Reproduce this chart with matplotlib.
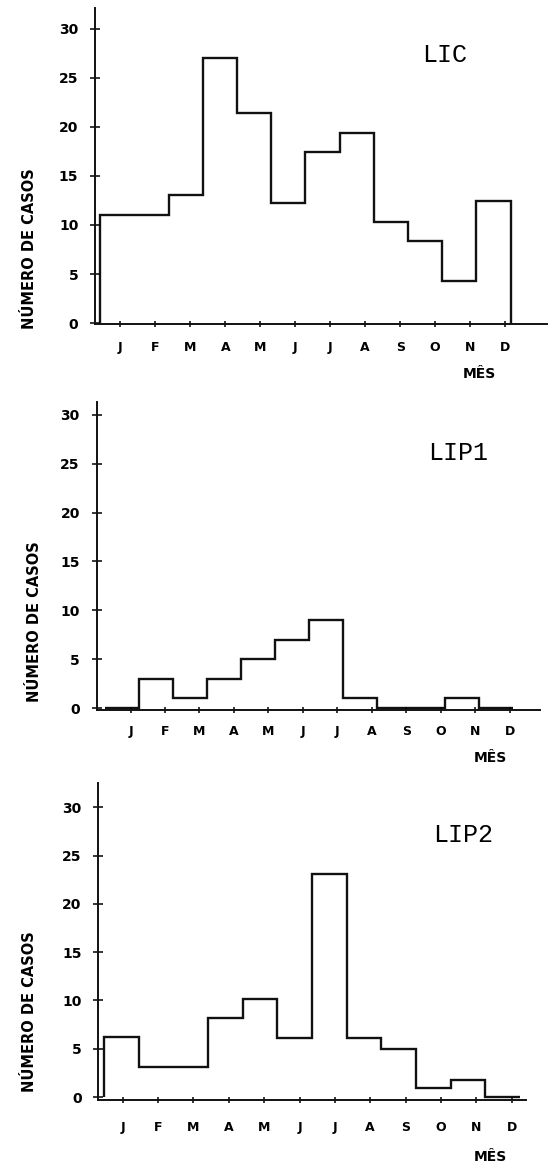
import matplotlib
matplotlib.use("Agg")
import matplotlib.pyplot as plt
import numpy as np


meses = ["J", "F", "M", "A", "M", "J", "J", "A", "S", "O", "N", "D"]

lic = [11, 11, 13.1, 27, 21.4, 12.2, 17.4, 19.4, 10.3, 8.4, 4.3, 12.4]
lip1 = [0, 3, 1, 3, 5, 7, 9, 1, 0, 0, 1, 0]
lip2 = [6.2, 3.1, 3.1, 8.2, 10.2, 6.1, 23.1, 6.1, 5, 0.9, 1.8, 0]

yticks = [0, 5, 10, 15, 20, 25, 30]

W, H = 550, 1171


def px(x, y):
    # pixel position (from top left) -> figure fraction
    return x / W, 1 - y / H


def plot_painel(
        fig,
        rect,
        valores,
        nome,
        xlim,
        ylim,
        inicio,
        largura,
        pos_nome,
        pos_mes,
        pos_ylabel,
        xpad = 11
        ):

    ax = fig.add_axes(rect)

    bordas = inicio + largura * np.arange(len(valores) + 1)

    ax.stairs(valores, bordas, baseline = 0,
              color = "#111111", lw = 1.7)

    for lado in ["top", "right"]:
        ax.spines[lado].set_visible(False)
    for lado in ["left", "bottom"]:
        ax.spines[lado].set_linewidth(1.4)
        ax.spines[lado].set_color("#111111")

    ax.set(
        xlim = xlim,
        ylim = ylim,
        xticks = np.arange(1, 13),
        yticks = yticks,
        )
    ax.set_xticklabels(meses, fontsize = 9, fontweight = "bold")
    ax.set_yticklabels([str(v) for v in yticks],
                       fontsize = 10, fontweight = "bold")

    ax.tick_params(axis = "y", direction = "inout", length = 7,
                   width = 1.1, pad = 8.5)
    ax.tick_params(axis = "x", direction = "inout", length = 4,
                   width = 1.1, pad = xpad)

    fig.text(*px(*pos_nome), nome, fontsize = 18,
             family = "Liberation Mono",
             ha = "center", va = "center")

    fig.text(*px(*pos_mes), "MÊS", fontsize = 10,
             fontweight = "bold", ha = "center", va = "center")

    fig.text(*px(*pos_ylabel), "NÚMERO DE CASOS", fontsize = 10.5,
             fontweight = "bold", rotation = 90,
             ha = "center", va = "center")
    return ax


def plot_figura():

    fig = plt.figure(figsize = (W / 100, H / 100), dpi = 100)

    plot_painel(
        fig,
        [0.1727, 0.7233, 0.822, 0.2696],
        lic, "LIC",
        xlim = (0.275, 13.2),
        ylim = (-0.1, 32.1),
        inicio = 0.424, largura = 0.978,
        pos_nome = (445, 55),
        pos_mes = (479, 374),
        pos_ylabel = (30, 249),
        xpad = 10.5
        )

    plot_painel(
        fig,
        [0.1755, 0.3937, 0.806, 0.2633],
        lip1, "LIP1",
        xlim = (0.014, 12.87),
        ylim = (-0.2, 31.35),
        inicio = 0.27, largura = 0.986,
        pos_nome = (458, 453),
        pos_mes = (490, 758),
        pos_ylabel = (35, 622),
        xpad = 9
        )

    plot_painel(
        fig,
        [0.1785, 0.0606, 0.778, 0.2707],
        lip2, "LIP2",
        xlim = (0.304, 12.41),
        ylim = (-0.3, 32.5),
        inicio = 0.474, largura = 0.98,
        pos_nome = (463, 835),
        pos_mes = (490, 1157),
        pos_ylabel = (30, 1012),
        xpad = 13
        )

    fig.savefig("out.png", dpi = 100)
    return fig


plot_figura()
